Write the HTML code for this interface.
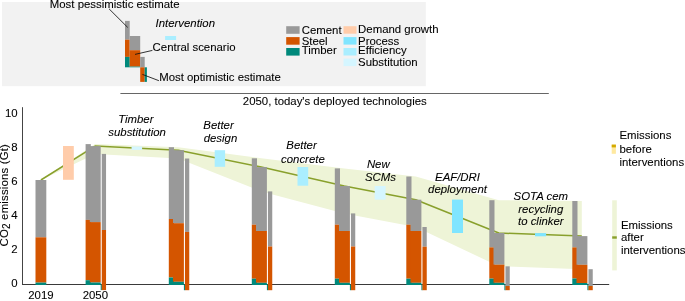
<!DOCTYPE html>
<html><head><meta charset="utf-8"><title>CO2 emissions chart</title>
<style>html,body{margin:0;padding:0;background:#fff;}svg{display:block;will-change:transform;}text{font-family:"Liberation Sans",Arial,Helvetica,sans-serif;font-size:11.40px;fill:#000;stroke:#000;stroke-width:0.08px;}.i{font-style:italic;}.m{text-anchor:middle;}.e{text-anchor:end;}</style></head><body>
<svg width="685" height="301" viewBox="0 0 685 301">
<rect x="0" y="0" width="685" height="301" fill="#ffffff"/>
<rect x="2.00" y="2.00" width="423.80" height="84.20" fill="#f2f2f2"/>
<rect x="125.00" y="20.90" width="4.70" height="18.80" fill="#999999"/>
<rect x="125.00" y="39.70" width="4.70" height="17.20" fill="#d45500"/>
<rect x="125.00" y="56.90" width="4.70" height="10.40" fill="#00897b"/>
<rect x="129.70" y="36.00" width="10.50" height="14.20" fill="#999999"/>
<rect x="129.70" y="50.20" width="10.50" height="16.40" fill="#d45500"/>
<rect x="129.70" y="66.60" width="10.50" height="0.70" fill="#00897b"/>
<rect x="140.20" y="56.90" width="4.50" height="10.40" fill="#999999"/>
<rect x="140.20" y="67.30" width="4.50" height="14.60" fill="#d45500"/>
<rect x="144.70" y="67.30" width="2.20" height="14.60" fill="#00897b"/>
<rect x="165.10" y="36.00" width="11.00" height="4.00" fill="#aaeeff"/>
<line x1="109" y1="8.8" x2="127.7" y2="27.4" stroke="#111" stroke-width="0.85"/>
<line x1="135" y1="54.4" x2="152.4" y2="50.4" stroke="#111" stroke-width="0.85"/>
<line x1="142.4" y1="74.4" x2="158.9" y2="80.7" stroke="#111" stroke-width="0.85"/>
<text x="49.8" y="7.8">Most pessimistic estimate</text>
<text class="i" x="155.5" y="27.4">Intervention</text>
<text x="152.6" y="50.8">Central scenario</text>
<text x="159.2" y="81.1">Most optimistic estimate</text>
<rect x="286.20" y="26.20" width="13.40" height="7.60" fill="#999999"/>
<rect x="286.20" y="37.10" width="13.40" height="7.60" fill="#d45500"/>
<rect x="286.20" y="48.00" width="13.40" height="7.60" fill="#00897b"/>
<text x="301.7" y="33.8">Cement</text>
<text x="301.7" y="44.5">Steel</text>
<text x="301.7" y="53.5">Timber</text>
<rect x="343.50" y="26.20" width="13.00" height="7.50" fill="#ffccaa"/>
<rect x="343.50" y="37.10" width="13.00" height="7.50" fill="#80e5ff"/>
<rect x="343.50" y="48.00" width="13.00" height="7.50" fill="#aaeeff"/>
<rect x="343.50" y="58.60" width="13.00" height="7.50" fill="#d5f6ff"/>
<text x="358.1" y="33.0">Demand growth</text>
<text x="358.1" y="44.6">Process</text>
<text x="358.1" y="54.0">Efficiency</text>
<text x="358.1" y="65.7">Substitution</text>
<line x1="120.4" y1="93.5" x2="548.8" y2="93.5" stroke="#666" stroke-width="1"/>
<text x="242.8" y="104.9">2050, today's deployed technologies</text>
<polygon points="40.90,180.00 95.10,144.10 178.30,147.20 261.30,158.30 344.30,168.40 415.80,176.50 498.80,200.20 581.80,201.00 581.80,269.20 498.80,266.30 415.80,227.00 344.30,213.40 261.30,191.40 178.30,158.50 95.10,153.90 40.90,180.00" fill="#eef4d7"/>
<polyline points="40.90,180.00 95.10,146.10 178.30,150.20 261.30,167.10 344.30,186.00 415.80,199.70 498.80,233.00 581.80,236.10" fill="none" stroke="#89a02c" stroke-width="1.5" stroke-linejoin="round"/>
<line x1="22.5" y1="107.2" x2="22.5" y2="285" stroke="#444" stroke-width="1"/>
<line x1="22" y1="284.5" x2="609.2" y2="284.5" stroke="#3a3a3a" stroke-width="1"/>
<rect x="35.50" y="180.00" width="10.80" height="57.30" fill="#999999"/>
<rect x="35.50" y="237.30" width="10.80" height="45.30" fill="#d45500"/>
<rect x="35.50" y="282.60" width="10.80" height="2.40" fill="#00897b"/>
<rect x="85.60" y="144.10" width="5.20" height="75.80" fill="#999999"/>
<rect x="85.60" y="219.90" width="5.20" height="60.30" fill="#d45500"/>
<rect x="85.60" y="280.20" width="5.20" height="4.80" fill="#00897b"/>
<rect x="89.80" y="146.10" width="10.90" height="76.00" fill="#999999"/>
<rect x="89.80" y="222.10" width="10.90" height="60.40" fill="#d45500"/>
<rect x="89.80" y="282.50" width="10.90" height="2.50" fill="#00897b"/>
<rect x="100.70" y="284.60" width="1.20" height="5.50" fill="#00897b"/>
<rect x="168.80" y="147.20" width="5.20" height="71.80" fill="#999999"/>
<rect x="168.80" y="219.00" width="5.20" height="58.50" fill="#d45500"/>
<rect x="168.80" y="277.50" width="5.20" height="7.50" fill="#00897b"/>
<rect x="173.00" y="150.20" width="10.90" height="73.00" fill="#999999"/>
<rect x="173.00" y="223.20" width="10.90" height="58.60" fill="#d45500"/>
<rect x="173.00" y="281.80" width="10.90" height="3.20" fill="#00897b"/>
<rect x="183.90" y="284.60" width="1.20" height="5.60" fill="#00897b"/>
<rect x="251.80" y="158.30" width="5.20" height="66.40" fill="#999999"/>
<rect x="251.80" y="224.70" width="5.20" height="54.00" fill="#d45500"/>
<rect x="251.80" y="278.70" width="5.20" height="6.30" fill="#00897b"/>
<rect x="256.00" y="167.10" width="10.90" height="63.90" fill="#999999"/>
<rect x="256.00" y="231.00" width="10.90" height="51.80" fill="#d45500"/>
<rect x="256.00" y="282.80" width="10.90" height="2.20" fill="#00897b"/>
<rect x="266.90" y="284.60" width="1.20" height="5.60" fill="#00897b"/>
<rect x="334.80" y="168.40" width="5.20" height="56.30" fill="#999999"/>
<rect x="334.80" y="224.70" width="5.20" height="54.00" fill="#d45500"/>
<rect x="334.80" y="278.70" width="5.20" height="6.30" fill="#00897b"/>
<rect x="339.00" y="186.00" width="10.90" height="45.00" fill="#999999"/>
<rect x="339.00" y="231.00" width="10.90" height="51.80" fill="#d45500"/>
<rect x="339.00" y="282.80" width="10.90" height="2.20" fill="#00897b"/>
<rect x="349.90" y="284.60" width="1.20" height="5.60" fill="#00897b"/>
<rect x="406.30" y="176.50" width="5.20" height="48.20" fill="#999999"/>
<rect x="406.30" y="224.70" width="5.20" height="54.00" fill="#d45500"/>
<rect x="406.30" y="278.70" width="5.20" height="6.30" fill="#00897b"/>
<rect x="410.50" y="199.70" width="10.90" height="31.30" fill="#999999"/>
<rect x="410.50" y="231.00" width="10.90" height="51.80" fill="#d45500"/>
<rect x="410.50" y="282.80" width="10.90" height="2.20" fill="#00897b"/>
<rect x="421.40" y="284.60" width="1.20" height="5.60" fill="#00897b"/>
<rect x="489.30" y="200.20" width="5.20" height="47.20" fill="#999999"/>
<rect x="489.30" y="247.40" width="5.20" height="31.20" fill="#d45500"/>
<rect x="489.30" y="278.60" width="5.20" height="6.40" fill="#00897b"/>
<rect x="493.50" y="233.00" width="10.90" height="31.70" fill="#999999"/>
<rect x="493.50" y="264.70" width="10.90" height="18.10" fill="#d45500"/>
<rect x="493.50" y="282.80" width="10.90" height="2.20" fill="#00897b"/>
<rect x="504.40" y="284.60" width="1.20" height="5.60" fill="#00897b"/>
<rect x="572.30" y="201.00" width="5.20" height="46.40" fill="#999999"/>
<rect x="572.30" y="247.40" width="5.20" height="31.10" fill="#d45500"/>
<rect x="572.30" y="278.50" width="5.20" height="6.50" fill="#00897b"/>
<rect x="576.50" y="236.10" width="10.90" height="28.70" fill="#999999"/>
<rect x="576.50" y="264.80" width="10.90" height="18.20" fill="#d45500"/>
<rect x="576.50" y="283.00" width="10.90" height="2.00" fill="#00897b"/>
<rect x="587.40" y="284.60" width="1.20" height="5.60" fill="#00897b"/>
<rect x="101.75" y="153.90" width="4.30" height="76.10" fill="#999999"/>
<rect x="101.75" y="230.00" width="4.30" height="60.10" fill="#d45500"/>
<rect x="184.95" y="158.50" width="4.30" height="73.40" fill="#999999"/>
<rect x="184.95" y="231.90" width="4.30" height="58.30" fill="#d45500"/>
<rect x="267.95" y="191.40" width="4.30" height="55.10" fill="#999999"/>
<rect x="267.95" y="246.50" width="4.30" height="43.70" fill="#d45500"/>
<rect x="350.95" y="213.40" width="4.30" height="33.10" fill="#999999"/>
<rect x="350.95" y="246.50" width="4.30" height="43.70" fill="#d45500"/>
<rect x="422.45" y="227.00" width="4.30" height="19.70" fill="#999999"/>
<rect x="422.45" y="246.70" width="4.30" height="43.50" fill="#d45500"/>
<rect x="505.45" y="266.30" width="4.30" height="19.70" fill="#999999"/>
<rect x="505.45" y="286.00" width="4.30" height="4.20" fill="#d45500"/>
<rect x="588.45" y="269.20" width="4.30" height="16.80" fill="#999999"/>
<rect x="588.45" y="286.00" width="4.30" height="4.20" fill="#d45500"/>
<rect x="63.00" y="146.00" width="10.80" height="33.80" fill="#ffccaa"/>
<rect x="131.60" y="146.50" width="10.50" height="3.40" fill="#d5f6ff"/>
<rect x="214.70" y="150.20" width="10.40" height="16.60" fill="#aaeeff"/>
<rect x="297.50" y="167.00" width="10.70" height="18.70" fill="#aaeeff"/>
<rect x="374.70" y="186.00" width="10.90" height="13.60" fill="#d5f6ff"/>
<rect x="452.00" y="199.60" width="11.00" height="33.40" fill="#80e5ff"/>
<rect x="535.00" y="233.10" width="11.10" height="3.20" fill="#80e5ff"/>
<text class="e" x="17.6" y="287.0">0</text>
<text class="e" x="17.6" y="253.0">2</text>
<text class="e" x="17.6" y="219.0">4</text>
<text class="e" x="17.6" y="185.0">6</text>
<text class="e" x="17.6" y="151.0">8</text>
<text class="e" x="17.6" y="117.0">10</text>
<text class="m" x="40.9" y="298.7">2019</text>
<text class="m" x="95.35" y="298.7">2050</text>
<text class="m" style="letter-spacing:0.18px" transform="translate(8.2,195.2) rotate(-90)">CO<tspan dy="1.5" style="font-size:10px">2</tspan><tspan dy="-1.5"> emissions (Gt)</tspan></text>
<text class="i m" x="135.8" y="123.4">Timber</text>
<text class="i m" x="137.1" y="136.4">substitution</text>
<text class="i m" x="218.5" y="128.8">Better</text>
<text class="i m" x="220.5" y="141.6">design</text>
<text class="i m" x="301.5" y="149.4">Better</text>
<text class="i m" x="302.9" y="162.6">concrete</text>
<text class="i m" x="378.3" y="168.2">New</text>
<text class="i m" x="380.4" y="181.4">SCMs</text>
<text class="i m" x="457.5" y="180.6">EAF/DRI</text>
<text class="i m" x="457.5" y="193.2">deployment</text>
<text class="i m" x="540.8" y="199.7">SOTA cem</text>
<text class="i m" x="540.8" y="212.7">recycling</text>
<text class="i m" x="540.8" y="225.4">to clinker</text>
<rect x="611.70" y="144.60" width="4.20" height="9.20" fill="#ffe9a0"/>
<rect x="611.70" y="144.60" width="4.20" height="2.80" fill="#d4aa00"/>
<text x="619.5" y="139.3">Emissions</text>
<text x="619.5" y="152.6">before</text>
<text x="619.5" y="165.9">interventions</text>
<rect x="612.20" y="200.30" width="4.60" height="70.10" fill="#eef4d7"/>
<rect x="612.20" y="236.30" width="4.60" height="2.40" fill="#89a02c"/>
<text x="620.9" y="228.7">Emissions</text>
<text x="620.9" y="241.0">after</text>
<text x="620.9" y="253.5">interventions</text>
</svg></body></html>
